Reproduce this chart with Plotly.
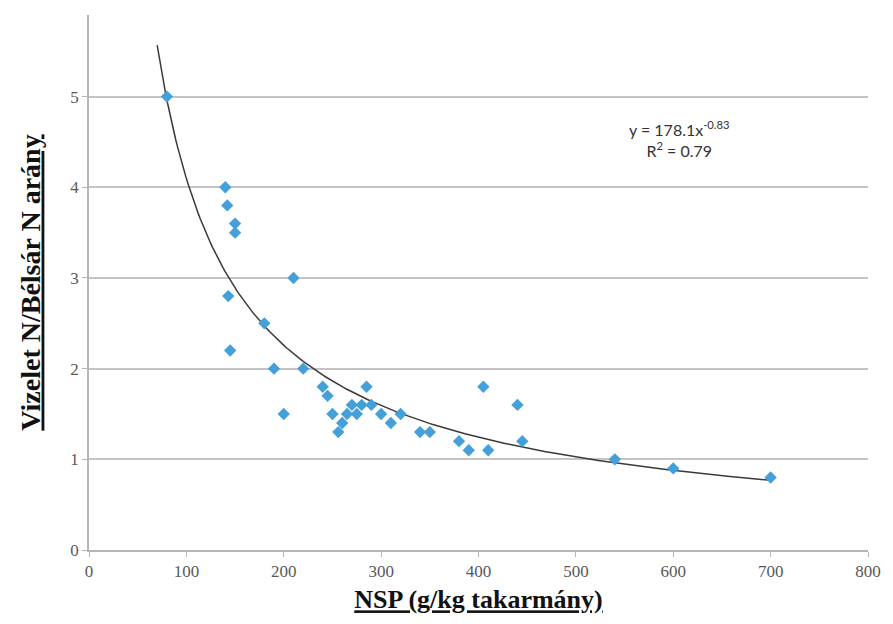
import numpy as np
import plotly.graph_objects as go

# Data
nsp = [80, 140, 142, 150, 150, 143, 210, 180, 145, 190, 220, 200, 240, 245, 250,
       260, 256, 265, 270, 275, 280, 285, 290, 300, 310, 320, 340, 350, 380, 390,
       410, 405, 440, 445, 540, 600, 700]
ratio = [5.0, 4.0, 3.8, 3.6, 3.5, 2.8, 3.0, 2.5, 2.2, 2.0, 2.0, 1.5, 1.8, 1.7, 1.5,
         1.4, 1.3, 1.5, 1.6, 1.5, 1.6, 1.8, 1.6, 1.5, 1.4, 1.5, 1.3, 1.3, 1.2, 1.1,
         1.1, 1.8, 1.6, 1.2, 1.0, 0.9, 0.8]

x_ticks = [0, 100, 200, 300, 400, 500, 600, 700, 800]
y_ticks = [0, 1, 2, 3, 4, 5]

# Power trendline as drawn (y = a * x^-b), shown between these x limits
trend_a = 215.0
trend_b = 0.86
trend_x_min = 70
trend_x_max = 700
eq_text = "y = 178.1x<sup>-0.83</sup><br>R<sup>2</sup> = 0.79"

x_title = "<u>NSP (g/kg takarmány)</u>"
y_title = "<u>Vizelet N/Bélsár N arány</u>"

tx = np.linspace(trend_x_min, trend_x_max, 300)
ty = trend_a * tx ** (-trend_b)

fig = go.Figure()
fig.add_trace(go.Scatter(x=tx, y=ty, mode="lines",
                         line=dict(color="#3a3a3a", width=1.5),
                         hoverinfo="skip", showlegend=False))
fig.add_trace(go.Scatter(x=nsp, y=ratio, mode="markers",
                         marker=dict(symbol="diamond", size=9.5, color="#45a0da",
                                     line=dict(width=0)),
                         showlegend=False))

fig.add_annotation(x=0.758, y=0.768, xref="paper", yref="paper",
                   xanchor="center", yanchor="middle",
                   text=eq_text, showarrow=False, align="center",
                   font=dict(family="Lato", size=16, color="#333333"))

fig.update_layout(
    width=893, height=624,
    margin=dict(l=89, r=20, t=15, b=74),
    paper_bgcolor="white", plot_bgcolor="white",
    font=dict(family="Liberation Serif", size=17, color="#595959"),
    xaxis=dict(range=[0, 800], tickvals=x_ticks, showgrid=False,
               showline=True, linecolor="#b5b5b5", linewidth=1.5,
               ticks="outside", ticklen=5, tickcolor="#b5b5b5", zeroline=False,
               title=dict(text=x_title, standoff=10,
                          font=dict(family="Liberation Serif", size=26,
                                    color="#111111", weight="bold"))),
    yaxis=dict(range=[0, 5.9], tickvals=y_ticks, showgrid=True,
               gridcolor="#c4c4c4", gridwidth=1.5,
               showline=True, linecolor="#b5b5b5", linewidth=1.5,
               ticks="outside", ticklen=5, tickcolor="#b5b5b5", zeroline=False,
               title=dict(text=y_title, standoff=22,
                          font=dict(family="Liberation Serif", size=28,
                                    color="#111111", weight="bold"))),
)

fig.write_html("out.html")
